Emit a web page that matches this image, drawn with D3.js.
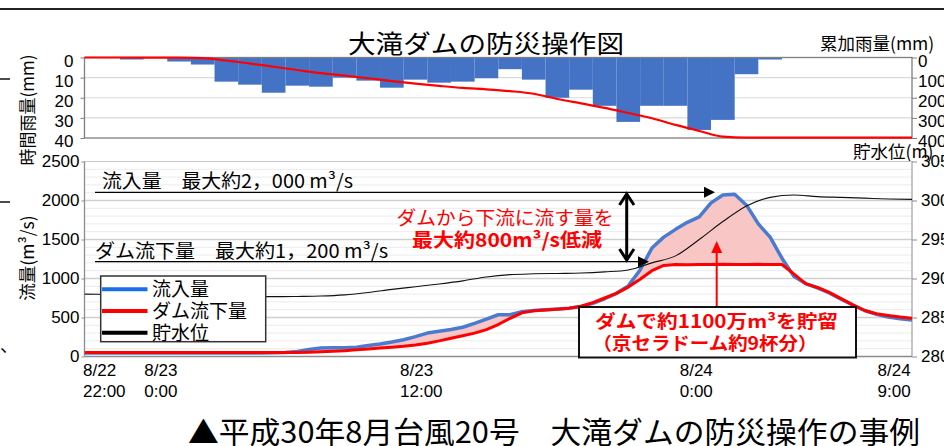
<!DOCTYPE html>
<html><head><meta charset="utf-8">
<script src="https://cdn.jsdelivr.net/npm/d3@7"></script>
<style>
body{margin:0;background:#fff;}
svg{display:block;}
text{font-family:"Liberation Sans","Noto Sans CJK JP",sans-serif;fill:#000;}
.jp{font-family:"Noto Sans CJK JP","Liberation Sans",sans-serif;}
</style>
</head><body>
<svg id="c" width="944" height="446"></svg>
<script>
// ---------------- DATA ----------------
// hours counted from 8/22 22:00
const rainHours = [0,1,2,3,4,5,6,7,8,9,10,11,12,13,14,15,16,17,18,19,20,21,22,23,24,25,26,27,28,29,30,31,32,33,34,35];
const hourlyRain = [0,0,1,0,2,3.5,12,13.5,17.5,14,14.5,10,11.5,15,11,12.5,12,10.3,5.8,11,20,16,24,32,24,24,36,31,8.3,1,0,0,0,0,0,0];
const cumRain = [0,0,0,0.3,0.5,3,15,30,46,62,78,90,103,117,130,141,151,158,167,180,206,228,250,276,302,335,365,393,398,398,398,398,398,398,398,398];
const flowTimes = [0,0.5,1,1.5,2,2.5,3,3.5,4,4.5,5,5.5,6,6.5,7,7.5,8,8.5,9,9.5,10,10.5,11,11.5,12,12.5,13,13.5,14,14.5,15,15.5,16,16.5,17,17.5,18,18.5,19,19.5,20,20.5,21,21.5,22,22.5,23,23.5,24,24.5,25,25.5,26,26.5,27,27.5,28,28.5,29,29.5,30,30.5,31,31.5,32,32.5,33,33.5,34,34.5,35];
const inflow = [45,45,45,45,45,45,45,45,45,45,45,45,45,45,45,45,48,52,
  65,90,108,112,113,120,140,160,185,215,255,300,325,345,375,425,480,535,535,575,590,600,610,620,640,682,740,810,905,1110,1390,1530,1630,1720,1790,1970,2070,2080,1940,1700,1530,1260,1030,935,880,815,735,660,590,540,505,485,468];
const outflow = [50,50,50,50,50,50,50,50,50,50,50,50,50,50,50,50,50,50,
  52,56,60,66,75,85,95,108,118,130,148,170,200,233,265,300,345,410,490,560,585,595,605,618,645,690,750,810,890,990,1100,1168,1178,1176,1180,1178,1182,1178,1180,1182,1178,1180,1060,935,885,822,742,662,590,548,525,505,490];
const levelHours = rainHours;
const waterLevel = [288.0,287.95,287.9,287.85,287.8,287.75,287.7,287.68,287.67,287.7,287.75,287.9,288.2,288.6,288.95,289.3,289.7,290.2,290.5,290.6,290.65,290.7,290.85,291.1,292.0,292.9,295.0,297.3,299.3,300.4,300.7,300.5,300.4,300.3,300.2,300.15];
const rainTicks = [0,10,20,30,40];
const cumTicks = [0,100,200,300,400];
const flowTicks = [0,500,1000,1500,2000,2500];
const levelTicks = [280,285,290,295,300,305];
const timeTicks = [0,2,14,26,35];
const timeLabels = [["8/22","22:00"],["8/23","0:00"],["8/23","12:00"],["8/24","0:00"],["8/24","9:00"]];
const legendItems = ["流入量","ダム流下量","貯水位"];

// ---------------- LAYOUT ----------------
const svg = d3.select("#c");
const L = 84.5, R = 912;
const T0 = 57.5, T1 = 138;
const B0 = 161.5, B1 = 356.5;
const x = d3.scaleLinear().domain([0,35]).range([L,R]);
const yRain = d3.scaleLinear().domain([0,40]).range([T0,T1]);
const yCum = d3.scaleLinear().domain([0,400]).range([T0,T1]);
const yFlow = d3.scaleLinear().domain([0,2500]).range([B1,B0]);
const yLev = d3.scaleLinear().domain([280,305]).range([B1,B0]);
const fmt = d3.format("d");

const defs = svg.append("defs");
defs.append("clipPath").attr("id","clipTop").append("rect").attr("x",L).attr("y",T0).attr("width",R-L).attr("height",T1-T0);
defs.append("clipPath").attr("id","clipBot").append("rect").attr("x",L).attr("y",B0-2).attr("width",R-L).attr("height",B1-B0+2);

// page decorations
svg.append("line").attr("x1",0).attr("x2",944).attr("y1",9).attr("y2",9).attr("stroke","#222").attr("stroke-width",2);
svg.append("line").attr("x1",0).attr("x2",10).attr("y1",79).attr("y2",79).attr("stroke","#111").attr("stroke-width",1.5);
svg.append("line").attr("x1",0).attr("x2",10).attr("y1",202).attr("y2",202).attr("stroke","#111").attr("stroke-width",1.5);
svg.append("text").attr("class","jp").attr("x",0).attr("y",352).attr("font-size",18).text("、");

// title
svg.append("text").attr("class","jp").attr("x",486).attr("y",53).attr("text-anchor","middle")
  .attr("font-size",25).attr("textLength",276).attr("lengthAdjust","spacingAndGlyphs").text("大滝ダムの防災操作図");

// ---------------- TOP PANEL ----------------
const gTop = svg.append("g");
gTop.selectAll("line.grid").data(rainTicks.slice(1,-1)).join("line")
  .attr("x1",L).attr("x2",R).attr("y1",d=>yRain(d)).attr("y2",d=>yRain(d))
  .attr("stroke","#d9d9d9").attr("stroke-width",1.2);
const bw = x(1)-x(0);
gTop.append("g").attr("clip-path","url(#clipTop)").selectAll("rect").data(rainHours).join("rect")
  .attr("x",(d)=>x(d)-bw/2).attr("width",bw)
  .attr("y",T0).attr("height",(d,i)=>yRain(hourlyRain[i])-T0)
  .attr("fill","#4472c4");
gTop.append("rect").attr("x",L).attr("y",T0).attr("width",R-L).attr("height",T1-T0)
  .attr("fill","none").attr("stroke","#7f7f7f").attr("stroke-width",1.3);
gTop.append("path").datum(rainHours)
  .attr("d",d3.line().x(d=>x(d)).y((d,i)=>yCum(cumRain[i])).curve(d3.curveMonotoneX))
  .attr("fill","none").attr("stroke","#ff0000").attr("stroke-width",2.2);

const axTL = gTop.append("g").attr("transform",`translate(${L},0)`)
  .call(d3.axisLeft(yRain).tickValues(rainTicks).tickFormat(fmt).tickSize(4).tickPadding(7));
const axTR = gTop.append("g").attr("transform",`translate(${R},0)`)
  .call(d3.axisRight(yCum).tickValues(cumTicks).tickFormat(fmt).tickSize(5).tickPadding(1));
[axTL,axTR].forEach(a=>{
  a.select(".domain").remove();
  a.selectAll(".tick line").attr("stroke","#7f7f7f");
  a.selectAll("text").attr("font-size",17).attr("font-family","Liberation Sans").attr("dy","0.5em");
});

svg.append("text").attr("class","jp").attr("font-size",17)
  .attr("transform","translate(26,110) rotate(-90)").attr("text-anchor","middle").attr("dominant-baseline","central")
  .text("時間雨量(mm)");
svg.append("text").attr("class","jp").attr("font-size",17.5).attr("x",820).attr("y",50)
  .text("累加雨量(mm)");
svg.append("text").attr("class","jp").attr("font-size",17.5).attr("x",853).attr("y",158)
  .text("貯水位(m)");

// ---------------- BOTTOM PANEL ----------------
const gB = svg.append("g");
const minorLev = [281,282,283,284,286,287,288,289,291,292,293,294,296,297,298,299,301,302,303,304];
gB.selectAll("line.minor").data(minorLev).join("line")
  .attr("x1",L).attr("x2",R).attr("y1",d=>yLev(d)).attr("y2",d=>yLev(d))
  .attr("stroke","#ececec").attr("stroke-width",1);
gB.selectAll("line.major").data(flowTicks.slice(1,-1)).join("line")
  .attr("x1",L).attr("x2",R).attr("y1",d=>yFlow(d)).attr("y2",d=>yFlow(d))
  .attr("stroke","#d0d0d0").attr("stroke-width",1.3);
gB.append("line").attr("x1",L).attr("x2",R).attr("y1",B0).attr("y2",B0).attr("stroke","#c8c8c8").attr("stroke-width",1.2);
gB.append("line").attr("x1",L).attr("x2",L).attr("y1",B0).attr("y2",B1).attr("stroke","#8c8c8c").attr("stroke-width",1.3);
gB.append("line").attr("x1",R).attr("x2",R).attr("y1",B0).attr("y2",B1).attr("stroke","#a6a6a6").attr("stroke-width",1.3);
gB.append("line").attr("x1",L).attr("x2",R).attr("y1",B1).attr("y2",B1).attr("stroke","#8c8c8c").attr("stroke-width",1.3);

const gPlot = gB.append("g").attr("clip-path","url(#clipBot)");
gPlot.append("path").datum(flowTimes)
  .attr("d",d3.area().x(d=>x(d)).y0((d,i)=>yFlow(outflow[i])).y1((d,i)=>yFlow(Math.max(inflow[i],outflow[i]))))
  .attr("fill","#f9c6c6");
gPlot.append("path").datum(flowTimes)
  .attr("d",d3.line().x(d=>x(d)).y((d,i)=>yFlow(inflow[i])))
  .attr("fill","none").attr("stroke","#4a7bd0").attr("stroke-width",3.5).attr("stroke-linejoin","round");
gPlot.append("path").datum(flowTimes)
  .attr("d",d3.line().x(d=>x(d)).y((d,i)=>yFlow(outflow[i])))
  .attr("fill","none").attr("stroke","#ff0000").attr("stroke-width",3).attr("stroke-linejoin","round");
gPlot.append("path").datum(levelHours)
  .attr("d",d3.line().x(d=>x(d)).y((d,i)=>yLev(waterLevel[i])).curve(d3.curveMonotoneX))
  .attr("fill","none").attr("stroke","#111").attr("stroke-width",1.1);

const axBL = gB.append("g").attr("transform",`translate(${L},0)`)
  .call(d3.axisLeft(yFlow).tickValues(flowTicks).tickFormat(fmt).tickSize(3).tickPadding(2));
const axBR = gB.append("g").attr("transform",`translate(${R},0)`)
  .call(d3.axisRight(yLev).tickValues(levelTicks).tickFormat(fmt).tickSize(5).tickPadding(4));
[axBL,axBR].forEach(a=>{
  a.select(".domain").remove();
  a.selectAll(".tick line").attr("stroke","#8c8c8c");
  a.selectAll("text").attr("font-size",17).attr("font-family","Liberation Sans");
});

// x axis labels (left aligned, shifted like the original text boxes)
const labelShift = [-2,12,-16,-20,-35];
const axX = gB.append("g").attr("transform",`translate(0,${B1})`)
  .call(d3.axisBottom(x).tickValues(timeTicks).tickSize(0).tickFormat(""));
axX.select(".domain").remove();
axX.selectAll(".tick").each(function(d,i){
  const t = d3.select(this).append("text").attr("font-size",17).attr("font-family","Liberation Sans")
    .attr("text-anchor","start").attr("x",labelShift[i]).attr("y",19);
  t.append("tspan").attr("x",labelShift[i]).text(timeLabels[i][0]);
  t.append("tspan").attr("x",labelShift[i]).attr("dy",21).text(timeLabels[i][1]);
});

svg.append("text").attr("class","jp").attr("font-size",17.5)
  .attr("transform","translate(26,258) rotate(-90)").attr("text-anchor","middle").attr("dominant-baseline","central")
  .text("流量(m³/s)");

// ---------------- ANNOTATIONS ----------------
const ann = svg.append("g");
function arrowLine(x1,x2,y){
  ann.append("line").attr("x1",x1).attr("x2",x2-9).attr("y1",y).attr("y2",y).attr("stroke","#000").attr("stroke-width",1.3);
  ann.append("path").attr("d",`M${x2},${y}L${x2-11},${y-5.5}L${x2-11},${y+5.5}Z`).attr("fill","#000");
}
arrowLine(95,715,192.3);
arrowLine(95,649,261.7);
ann.append("text").attr("class","jp").attr("x",102).attr("y",188).attr("font-size",19)
  .attr("textLength",251).attr("lengthAdjust","spacingAndGlyphs").text("流入量　最大約2，000 m³/s");
ann.append("text").attr("class","jp").attr("x",95).attr("y",258).attr("font-size",19)
  .attr("textLength",293).attr("lengthAdjust","spacingAndGlyphs").text("ダム流下量　最大約1，200 m³/s");
// double arrow
ann.append("line").attr("x1",626.7).attr("x2",626.7).attr("y1",194).attr("y2",260).attr("stroke","#000").attr("stroke-width",3);
ann.append("path").attr("d","M619.5,205L626.7,194L634,205").attr("fill","none").attr("stroke","#000").attr("stroke-width",3);
ann.append("path").attr("d","M619.5,249L626.7,260L634,249").attr("fill","none").attr("stroke","#000").attr("stroke-width",3);
ann.append("text").attr("class","jp").attr("x",505).attr("y",225).attr("text-anchor","middle").attr("font-size",19)
  .style("fill","#ff0000").attr("textLength",217).attr("lengthAdjust","spacingAndGlyphs").text("ダムから下流に流す量を");
ann.append("text").attr("class","jp").attr("x",507).attr("y",247).attr("text-anchor","middle").attr("font-size",19)
  .attr("font-weight","bold").style("fill","#ff0000").attr("textLength",190).attr("lengthAdjust","spacingAndGlyphs").text("最大約800m³/s低減");
// red arrow and storage box
ann.append("line").attr("x1",716.7).attr("x2",716.7).attr("y1",307).attr("y2",250).attr("stroke","#ff0000").attr("stroke-width",2);
ann.append("path").attr("d","M716.7,241L711.2,253L722.2,253Z").attr("fill","#ff0000");
ann.append("rect").attr("x",579).attr("y",307).attr("width",277).attr("height",50.5)
  .attr("fill","#fff").attr("stroke","#111").attr("stroke-width",2);
ann.append("text").attr("class","jp").attr("x",716.5).attr("y",328).attr("text-anchor","middle").attr("font-size",18)
  .attr("font-weight","bold").style("fill","#ff0000").attr("textLength",243).attr("lengthAdjust","spacingAndGlyphs").text("ダムで約1100万m³を貯留");
ann.append("text").attr("class","jp").attr("x",705).attr("y",350).attr("text-anchor","middle").attr("font-size",18)
  .attr("font-weight","bold").style("fill","#ff0000").attr("textLength",225).attr("lengthAdjust","spacingAndGlyphs").text("（京セラドーム約9杯分）");

// legend
const lg = svg.append("g");
lg.append("rect").attr("x",100.7).attr("y",276).attr("width",165).attr("height",65.7)
  .attr("fill","#fff").attr("stroke","#333").attr("stroke-width",1.5);
const legColors = ["#1a6fe8","#ff0000","#000"];
legendItems.forEach((t,i)=>{
  const yy = 289.3 + i*21.7;
  lg.append("line").attr("x1",102).attr("x2",147.5).attr("y1",yy).attr("y2",yy).attr("stroke",legColors[i]).attr("stroke-width",4);
  lg.append("text").attr("class","jp").attr("x",152).attr("y",yy+7).attr("font-size",19).text(t);
});

// caption
svg.append("text").attr("class","jp").attr("x",188).attr("y",443).attr("font-size",30)
  .attr("textLength",732).attr("lengthAdjust","spacingAndGlyphs")
  .text("▲平成30年8月台風20号　大滝ダムの防災操作の事例");
</script>
</body></html>
